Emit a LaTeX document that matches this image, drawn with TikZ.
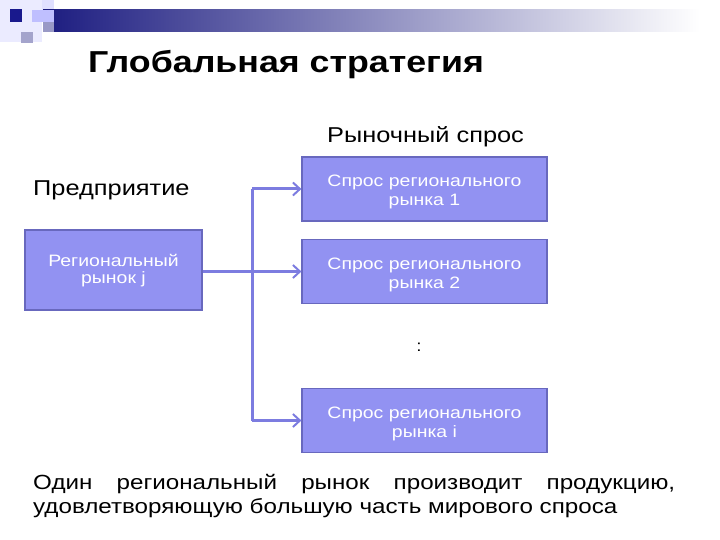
\documentclass[tikz,border=0pt]{standalone}
\usepackage{fontspec}
\setmainfont{Liberation Sans}[FakeStretch=1.18]
\usetikzlibrary{arrows.meta}
\definecolor{boxfill}{RGB}{146,146,242}
\definecolor{boxline}{RGB}{104,104,190}
\definecolor{wire}{RGB}{124,124,224}
\definecolor{navy}{RGB}{28,28,128}
\begin{document}
\begin{tikzpicture}[
  x=1pt, y=-1pt,
  demand/.style={draw=boxline, line width=1.2pt, fill=boxfill, text=white,
    minimum width=245pt, minimum height=64pt, align=center,
    text height=33pt, text depth=0pt,
    font=\fontsize{16.5}{19}\selectfont},
  region/.style={demand, minimum width=177pt, minimum height=80pt,
    text height=26pt, font=\fontsize{16.5}{16.5}\selectfont},
  label/.style={anchor=base west, inner sep=0pt, font=\fontsize{21.5}{24}\selectfont},
  link/.style={draw=wire, line width=3pt},
  feed/.style={link, -{Straight Barb[length=7pt,width=13pt,line width=2pt]}}
]
\useasboundingbox (0,0) rectangle (720,540);
\fill[white] (0,0) rectangle (720,540);
\fill[blue!8] (0,0) rectangle (42,42);
\fill[blue!12] (42,0) rectangle (54,10);
\shade[left color=navy, middle color=navy!40, right color=white] (43,10) rectangle (700,32);
\fill[blue!25] (32,10) rectangle (54,22);
\fill[navy!45] (43,22) rectangle (54,32);
\fill[navy!90!blue] (10,9) rectangle (22,22);
\fill[navy!40] (21,32) rectangle (33,43);

\node[anchor=base west, inner sep=0pt, font=\fontsize{30.3}{36}\selectfont\bfseries] (title) at (88,73) {Глобальная стратегия};
\node[label] (market) at (327,143) {Рыночный спрос};
\node[label] (firm) at (33,196) {Предприятие};

\node[region] (reg) at (113.5,270) {Региональный\\рынок j};
\node[demand] (d1) at (424.5,189) {Спрос регионального\\рынка 1};
\node[demand] (d2) at (424.5,271.5) {Спрос регионального\\рынка 2};
\node[demand] (di) at (424.5,420.5) {Спрос регионального\\рынка i};
\node[font=\fontsize{16}{18}\selectfont] (dots) at (419,347) {:};

\coordinate (up) at (252,189);
\coordinate (down) at (252,420.5);
\draw[link] (up) -- (down);
\draw[feed] (up) -- (d1.west);
\draw[feed] (reg.east |- d2.west) -- (d2.west);
\draw[feed] (down) -- (di.west);

\node[label, align=left, font=\fontsize{20.5}{24}\selectfont] (note) at (33,513)
  {\makebox[642pt][s]{Один региональный рынок производит продукцию,}\\удовлетворяющую большую часть мирового спроса};
\end{tikzpicture}
\end{document}
